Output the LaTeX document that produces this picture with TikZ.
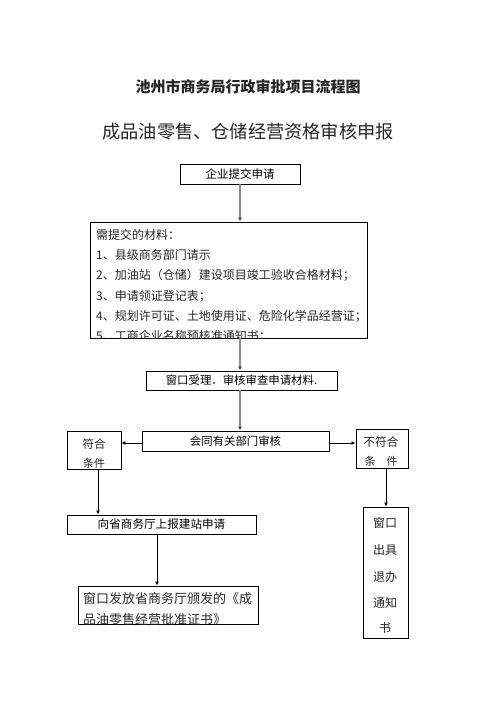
\documentclass[tikz,border=0pt]{standalone}
\usepackage{fontspec}
\setmainfont{Noto Sans CJK SC}
\usetikzlibrary{arrows.meta}
\tikzset{
  box/.style={draw=black, line width=0.9pt, inner sep=0pt, fill=white},
  garrow/.style={draw=gray!90, line width=1.4pt, -{Latex[length=4pt,width=4pt,color=black!70]}},
  barrow/.style={draw=black, line width=0.8pt, -{Latex[length=4pt,width=4pt]}},
  txt/.style={inner sep=0pt, text=black!85}
}
\begin{document}
\begin{tikzpicture}[x=1pt,y=-1pt]
\useasboundingbox (0,0) rectangle (496,702);
% titles
\node[txt, font=\fontsize{15}{17}\selectfont\bfseries] (t1) at (248,87) {池州市商务局行政审批项目流程图};
\node[txt, font=\fontsize{18.2}{20}\selectfont] (t2) at (248,132) {成品油零售、仓储经营资格审核申报};
% boxes
\node[box, minimum width=120pt, minimum height=20pt, font=\fontsize{11.5}{13}\selectfont] (b1) at (240,174) {企业提交申请};
\node[box, minimum width=277pt, minimum height=116pt] (b2) at (228.5,280) {};
\begin{scope}
\clip (b2.north west) rectangle (b2.south east);
\node[txt, anchor=north west, align=left, font=\fontsize{12}{20.3}\selectfont] (b2t) at (96,229) {需提交的材料：\\1、县级商务部门请示\\2、加油站（仓储）建设项目竣工验收合格材料；\\3、申请领证登记表；\\4、规划许可证、土地使用证、危险化学品经营证；\\5、工商企业名称预核准通知书；};
\end{scope}
\node[box, minimum width=191pt, minimum height=19pt, font=\fontsize{11.4}{13}\selectfont] (b3) at (241.5,380.5) {窗口受理．审核审查申请材料.};
\node[box, minimum width=187pt, minimum height=20pt, font=\fontsize{11.4}{13}\selectfont] (b4) at (235.5,441) {会同有关部门审核};
\node[box, minimum width=54pt, minimum height=38pt] (fh) at (94,450) {};
\node[txt, font=\fontsize{11.5}{13}\selectfont] (fh1) at (94,444) {符合};
\node[txt, font=\fontsize{11}{13}\selectfont] (fh2) at (94,463) {条件};
\node[box, minimum width=52pt, minimum height=39pt] (bf) at (382,448.5) {};
\node[txt, font=\fontsize{11.7}{13}\selectfont] (bf1) at (381,442) {不符合};
\node[txt, font=\fontsize{11}{13}\selectfont] (bf2) at (381,461) {条\hspace{11pt}件};
\node[box, minimum width=189pt, minimum height=19pt, font=\fontsize{11.6}{13}\selectfont] (b5) at (161.5,524.5) {向省商务厅上报建站申请};
\node[box, minimum width=45pt, minimum height=131pt] (b6) at (385.5,572.5) {};
\node[txt, font=\fontsize{12}{13}\selectfont] (b6a) at (385,523) {窗口};
\node[txt, font=\fontsize{12}{13}\selectfont] (b6b) at (385,550) {出具};
\node[txt, font=\fontsize{12}{13}\selectfont] (b6c) at (385,577) {退办};
\node[txt, font=\fontsize{12}{13}\selectfont] (b6d) at (385,603) {通知};
\node[txt, font=\fontsize{12}{13}\selectfont] (b6e) at (385,628) {书};
\node[box, minimum width=180pt, minimum height=38pt] (b7) at (168,605) {};
\begin{scope}
\clip (b7.north west) rectangle (b7.south east);
\node[txt, anchor=north west, align=left, font=\fontsize{13}{21}\selectfont] (b7t) at (83,592.5) {窗口发放省商务厅颁发的《成\\品油零售经营批准证书》};
\end{scope}
% connectors
\draw[garrow] (b1.south) -- (b2.north -| b1.south);
\draw[garrow] (b2.south -| b1.south) -- (b3.north -| b1.south);
\draw[garrow] (b3.south -| b1.south) -- (b4.north -| b1.south);
\draw[barrow] ([yshift=-2pt]b4.west) -- ([yshift=-2pt]b4.west -| fh.east);
\draw[barrow] ([yshift=-2pt]b4.east) -- ([yshift=-2pt]b4.east -| bf.west);
\draw[barrow] ([xshift=4pt]fh.south) -- ([xshift=4pt]fh.south |- b5.north);
\draw[barrow] ([xshift=4pt]bf.south) -- ([xshift=4pt]bf.south |- b6.north);
\draw[barrow] ([xshift=-4.5pt]b5.south) -- ([xshift=-4.5pt]b5.south |- b7.north);
\end{tikzpicture}
\end{document}
